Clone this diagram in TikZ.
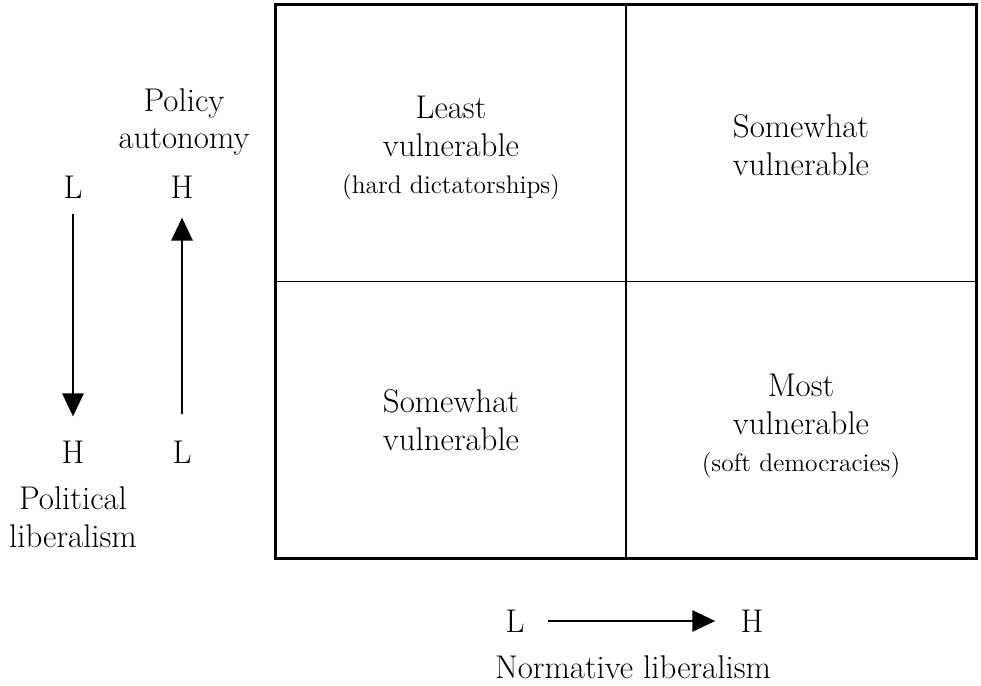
\documentclass[tikz,border=0pt]{standalone}
\usepackage{tikz}
\usetikzlibrary{arrows.meta}
\newcommand{\paren}[1]{{\fontsize{14.5}{17}\selectfont #1}}

\begin{document}
\begin{tikzpicture}[x=0.02cm,y=-0.02cm,
  lbl/.style={font=\fontsize{18.7}{21.5}\selectfont,align=center,inner sep=0pt},
  dirarrow/.style={line width=1.7pt,-{Triangle[length=0.46cm,width=0.42cm]}}]
\useasboundingbox (0,0) rectangle (981,686);
\node(grid) at (626,281.5)[draw,line width=1.7pt,minimum width=14.04cm,minimum height=11.1cm] {};
\draw[line width=0.9pt] (grid.north) -- (grid.south);
\draw[line width=0.9pt] (grid.west) -- (grid.east);
\node(c1) at (451,148)[lbl] {Least\\vulnerable\\\paren{(hard dictatorships)}};
\node(c2) at (801,145)[lbl] {Somewhat\\vulnerable};
\node(c3) at (451,420)[lbl] {Somewhat\\vulnerable};
\node(c4) at (801,426)[lbl] {Most\\vulnerable\\\paren{(soft democracies)}};
\node(pa) at (184,122)[lbl] {Policy\\autonomy};
\node(l1) at (73,187)[lbl] {L};
\node(h1) at (182,187)[lbl] {H};
\node(h2) at (73,452)[lbl] {H};
\node(l2) at (182,452)[lbl] {L};
\node(pl) at (73,517)[lbl] {Political\\liberalism};
\node(l3) at (515,621)[lbl] {L};
\node(h3) at (752,621)[lbl] {H};
\node(nl) at (633,667)[lbl] {Normative liberalism};
\draw[dirarrow,shorten <=0.3cm,shorten >=0.48cm] (l1) -- (h2);
\draw[dirarrow,shorten <=0.52cm,shorten >=0.38cm] (l2) -- (h1);
\draw[dirarrow,shorten <=0.46cm,shorten >=0.5cm] (l3) -- (h3);
\end{tikzpicture}
\end{document}
